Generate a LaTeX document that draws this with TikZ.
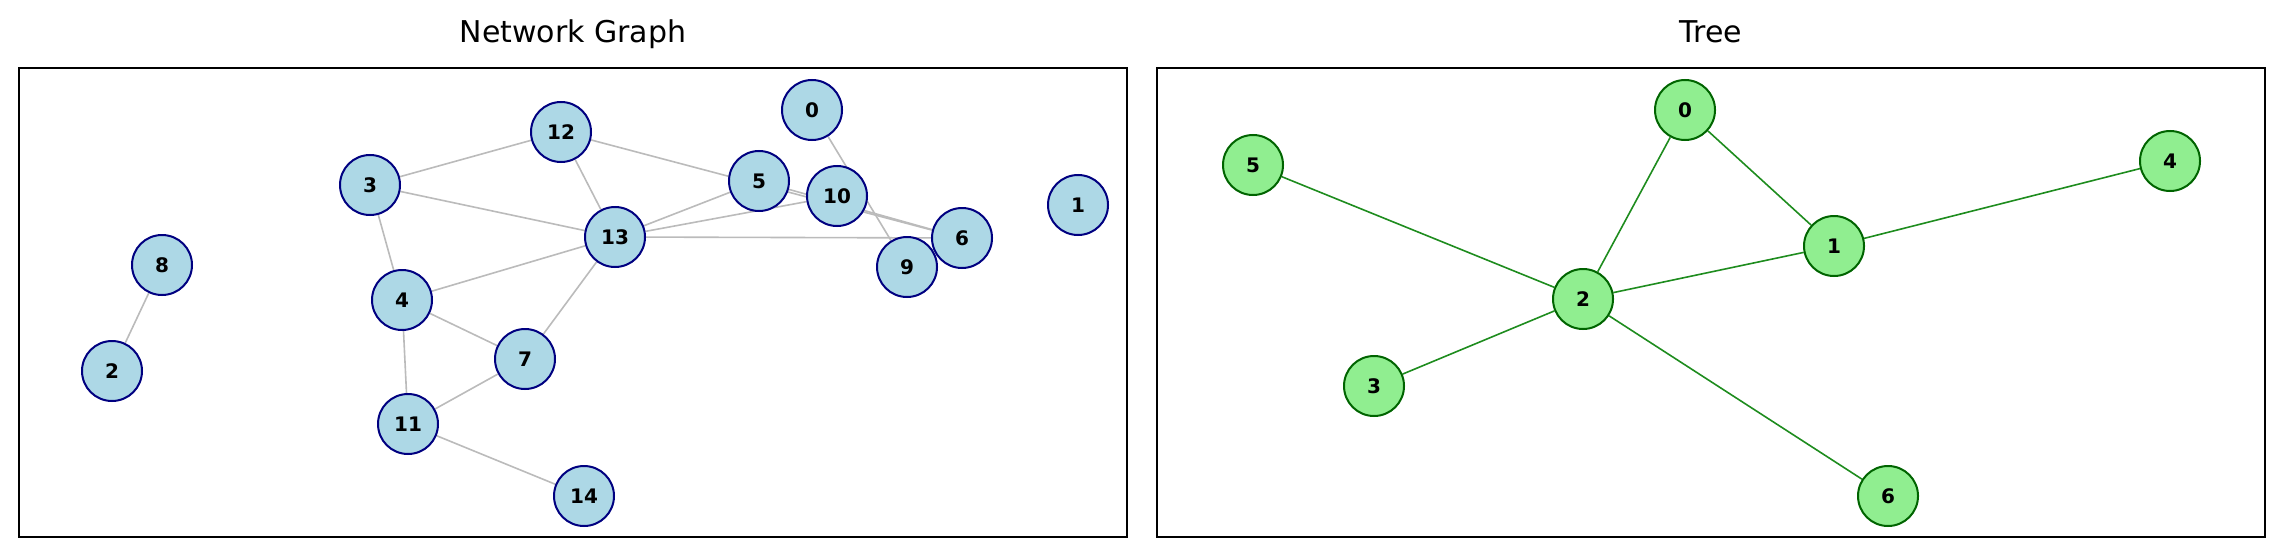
\documentclass[tikz,border=0pt]{standalone}
\usepackage{fontspec}
\setmainfont{DejaVu Sans}
\usetikzlibrary{backgrounds}

\definecolor{netfill}{HTML}{ADD8E6}
\definecolor{netborder}{HTML}{000080}
\definecolor{netedgecol}{HTML}{BBBBBB}
\definecolor{treefill}{HTML}{90EE90}
\definecolor{treeborder}{HTML}{006400}
\definecolor{treeedgecol}{HTML}{1E8C1E}

\tikzset{
  panel/.style={draw=black, line width=0.85pt},
  paneltitle/.style={anchor=base, font=\fontsize{15}{15}\selectfont},
  netnode/.style={circle, draw=netborder, fill=netfill, line width=1pt,
    minimum size=30pt, inner sep=0pt, font=\fontsize{10}{10}\selectfont\bfseries},
  treenode/.style={netnode, draw=treeborder, fill=treefill},
  netedge/.style={draw=netedgecol, line width=0.8pt},
  treeedge/.style={draw=treeedgecol, line width=0.8pt}
}

\begin{document}
\begin{tikzpicture}[x=0.5pt, y=-0.5pt] % one unit = one pixel of the reference
    \useasboundingbox (0,0) rectangle (2284,556);

    % 1. Draw the two panels and their titles
    \draw[panel] (19,68) rectangle (1127,537);
    \draw[panel] (1157,68) rectangle (2265,537);
    \node[paneltitle] (nettitle) at (573,43) {Network Graph};
    \node[paneltitle] (treetitle) at (1711,43) {Tree};

    % 2. Place the nodes of the network graph
    \foreach \n/\x/\y in {0/812/110, 1/1078/205, 2/112/371, 3/370/185,
        4/402/300, 5/759/181, 6/962/238, 7/525/359, 8/162/265, 9/907/267,
        10/837/196, 11/408/424, 12/561/132, 13/615/237, 14/584/496} {
        \node[netnode] (n\n) at (\x,\y) {\n};
    }

    % 3. Place the nodes of the tree
    \foreach \n/\x/\y in {0/1685/110, 1/1834/246, 2/1583/299, 3/1374/386,
        4/2170/161, 5/1253/165, 6/1888/496} {
        \node[treenode] (t\n) at (\x,\y) {\n};
    }

    % 4. Connect them, behind the nodes
    \begin{scope}[on background layer]
        \foreach \a/\b in {3/12, 3/13, 3/4, 12/13, 12/6, 5/6, 13/5, 13/10,
            13/6, 13/4, 13/7, 4/7, 4/11, 7/11, 11/14, 8/2, 0/9} {
            \draw[netedge] (n\a) -- (n\b);
        }
        \foreach \a/\b in {0/2, 0/1, 2/1, 1/4, 2/5, 2/3, 2/6} {
            \draw[treeedge] (t\a) -- (t\b);
        }
    \end{scope}
\end{tikzpicture}
\end{document}
